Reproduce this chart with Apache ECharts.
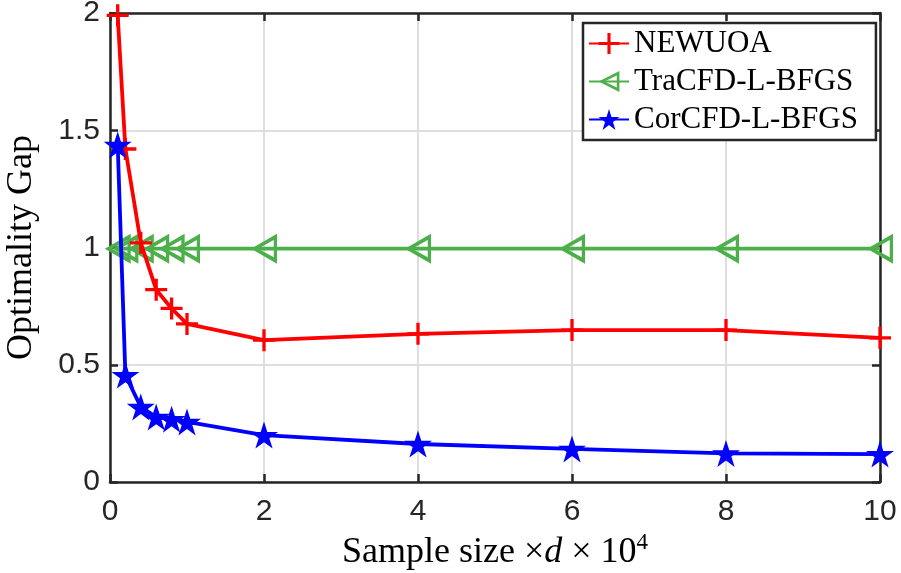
<!DOCTYPE html>
<html><head><meta charset="utf-8">
<script src="https://cdn.jsdelivr.net/npm/echarts@6/dist/echarts.min.js"></script>
<style>html,body{margin:0;padding:0;background:#fff}#c{width:901px;height:573px}</style>
</head><body><div id="c"></div>
<script>
const xValues = [0.1, 0.2, 0.4, 0.6, 0.8, 1, 2, 4, 6, 8, 10];
const newuoa = [1.99, 1.42, 1.02, 0.82, 0.74, 0.674, 0.605, 0.632, 0.648, 0.648, 0.615];
const tracfd = [0.995, 0.995, 0.995, 0.995, 0.995, 0.995, 0.995, 0.995, 0.995, 0.995, 0.995];
const corcfd = [1.437, 0.456, 0.32, 0.277, 0.268, 0.256, 0.2, 0.162, 0.141, 0.122, 0.119];
const seriesNames = ['NEWUOA', 'TraCFD-L-BFGS', 'CorCFD-L-BFGS'];
const xTicks = [0, 2, 4, 6, 8, 10];
const yTicks = [0, 0.5, 1, 1.5, 2];

const pair = arr => xValues.map((x, i) => [x, arr[i]]);
const plusPath = 'path://M-0.15,-1 L0.15,-1 L0.15,-0.15 L1,-0.15 L1,0.15 L0.15,0.15 L0.15,1 L-0.15,1 L-0.15,0.15 L-1,0.15 L-1,-0.15 L-0.15,-0.15 Z';
const starPath = 'path://M0,-1 L0.2245,-0.309 L0.951,-0.309 L0.363,0.118 L0.588,0.809 L0,0.382 L-0.588,0.809 L-0.363,0.118 L-0.951,-0.309 L-0.2245,-0.309 Z';
const triPath = 'path://M-1,0 L1,-1 L1,1 Z M-0.45,0 L0.75,0.57 L0.75,-0.57 Z';
const dark = '#262626';
const tickFont = {fontFamily: 'Liberation Sans, Arial, sans-serif', fontSize: 30, color: dark};
const serif = 'Liberation Serif, Times New Roman, serif';

const baseX = {type: 'value', min: 0, max: 10, interval: 2};
const baseY = {type: 'value', min: 0, max: 2, interval: 0.5};
const frameLine = {show: true, onZero: false, lineStyle: {color: dark, width: 2.5}};
const frameTick = {show: true, inside: true, length: 8, lineStyle: {color: dark, width: 2.5}};

const chart = echarts.init(document.getElementById('c'));
chart.setOption({
  animation: false,
  backgroundColor: '#fff',
  grid: {left: 110, right: 21, top: 13, bottom: 91, containLabel: false, outerBoundsMode: 'none'},
  legend: {
    left: 583, top: 23,
    orient: 'vertical',
    data: seriesNames,
    itemWidth: 40, itemHeight: 26, itemGap: 7,
    padding: [5, 18, 5, 5],
    borderColor: dark, borderWidth: 2.5,
    backgroundColor: '#fff',
    textStyle: {fontFamily: serif, fontSize: 31, color: '#000'}
  },
  xAxis: [
    Object.assign({}, baseX, {
      position: 'bottom',
      axisLine: frameLine, axisTick: frameTick,
      axisLabel: Object.assign({margin: 15, formatter: v => xTicks.includes(v) ? String(v) : ''}, tickFont),
      splitLine: {show: true, lineStyle: {color: '#dedede', width: 2}},
      name: '{n|Sample size ×}{i|d}{n| × 10}{s|4}',
      nameLocation: 'middle', nameGap: 46,
      nameTextStyle: {rich: {
        n: {fontFamily: serif, fontSize: 36, color: '#000'},
        i: {fontFamily: serif, fontSize: 36, fontStyle: 'italic', color: '#000'},
        s: {fontFamily: serif, fontSize: 23, color: '#000', verticalAlign: 'top', padding: [0, 0, 18, 0]}
      }}
    }),
    Object.assign({}, baseX, {
      position: 'top',
      axisLine: frameLine, axisTick: frameTick,
      axisLabel: {show: false}, splitLine: {show: false}
    })
  ],
  yAxis: [
    Object.assign({}, baseY, {
      position: 'left',
      axisLine: frameLine, axisTick: frameTick,
      axisLabel: Object.assign({margin: 10, formatter: v => yTicks.includes(v) ? String(v) : ''}, tickFont),
      splitLine: {show: true, lineStyle: {color: '#dedede', width: 2}},
      name: 'Optimality Gap', nameLocation: 'middle', nameGap: 70,
      nameTextStyle: {fontFamily: serif, fontSize: 36, color: '#000'}
    }),
    Object.assign({}, baseY, {
      position: 'right',
      axisLine: frameLine, axisTick: frameTick,
      axisLabel: {show: false}, splitLine: {show: false}
    })
  ],
  series: [
    {
      name: seriesNames[0], type: 'line', data: pair(newuoa), z: 3,
      symbol: plusPath, symbolSize: 22, showAllSymbol: true,
      lineStyle: {color: '#ff0000', width: 3.8},
      itemStyle: {color: '#ff0000'}
    },
    {
      name: seriesNames[1], type: 'line', data: pair(tracfd), z: 2,
      symbol: triPath, symbolSize: [26, 30], showAllSymbol: true,
      lineStyle: {color: '#4daf4a', width: 3.8},
      itemStyle: {color: '#4daf4a'}
    },
    {
      name: seriesNames[2], type: 'line', data: pair(corcfd), z: 4,
      symbol: starPath, symbolSize: [28, 27], showAllSymbol: true,
      lineStyle: {color: '#0000ff', width: 3.8},
      itemStyle: {color: '#0000ff'}
    }
  ]
});
</script></body></html>
